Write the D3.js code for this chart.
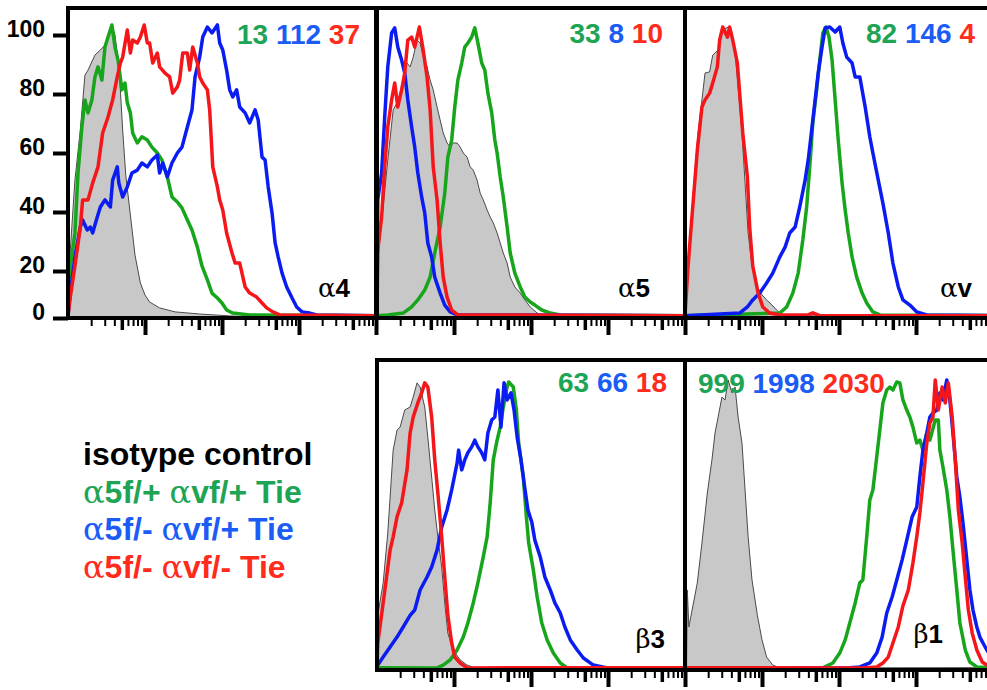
<!DOCTYPE html>
<html>
<head>
<meta charset="utf-8">
<script src="https://cdn.jsdelivr.net/npm/d3@7"></script>
<style>
  body { margin: 0; background: #fff; }
  svg { display: block; }
  text { white-space: pre; }
</style>
</head>
<body>
<svg id="chart" width="987" height="690"></svg>
<script>
// panel titles and MFI values printed in each panel
const panelNames = ["α4", "α5", "αv", "β3", "β1"];
const mfiGreen = [13, 33, 82, 63, 999];
const mfiBlue = [112, 8, 146, 66, 1998];
const mfiRed = [37, 10, 4, 18, 2030];
const legendLabels = ["isotype control", "α5f/+ αvf/+ Tie", "α5f/- αvf/+ Tie", "α5f/- αvf/- Tie"];
const yTicks = [0, 20, 40, 60, 80, 100];

// histograms: [log10 fluorescence, % of max]
const a4Iso = [[0.03,27.1],[0.09,50.8],[0.16,67.8],[0.22,86.4],[0.26,88.1],[0.35,93.2],[0.42,94.9],[0.48,96.6],[0.55,101.7],[0.57,103.4],[0.61,100],[0.65,91.5],[0.68,81.4],[0.71,67.8],[0.75,52.5],[0.81,39],[0.87,25.4],[0.94,14.9],[1.0,9.8],[1.06,6.8],[1.19,4.3],[1.39,2.6],[1.71,1.7],[2.1,0.9],[2.49,0.4]];
const a4Green = [[0.03,21.5],[0.09,32.9],[0.13,53.2],[0.18,68.8],[0.22,78],[0.26,73.6],[0.31,78],[0.35,85.8],[0.39,89.2],[0.44,84.7],[0.48,95.9],[0.52,99.3],[0.57,103.4],[0.61,95.9],[0.65,91.5],[0.7,81.4],[0.74,83.7],[0.77,77],[0.81,73.6],[0.84,66.8],[0.9,63.4],[0.96,65.5],[1.03,64.4],[1.09,62],[1.16,60],[1.22,57.6],[1.29,51.9],[1.35,45.1],[1.42,43.4],[1.48,41.4],[1.55,37.3],[1.61,33.9],[1.68,28.1],[1.74,21.7],[1.81,16.2],[1.87,10.6],[1.94,8.5],[2.0,6.4],[2.06,3.4],[2.14,2.1],[2.36,1.3]];
const a4Blue = [[0.03,10.6],[0.09,24.7],[0.16,34.9],[0.19,37.3],[0.25,33.9],[0.29,34.9],[0.32,32.9],[0.38,38.3],[0.42,41.7],[0.48,44.1],[0.55,41.7],[0.58,50.8],[0.64,55.3],[0.66,49.8],[0.71,45.1],[0.77,48.5],[0.83,53.2],[0.9,54.2],[0.96,56.6],[1.03,55.3],[1.09,57.6],[1.16,59.3],[1.19,53.2],[1.23,56.6],[1.29,51.9],[1.35,56.6],[1.42,60],[1.48,62],[1.55,68.8],[1.61,74.6],[1.65,85.8],[1.71,92.5],[1.75,99.3],[1.81,102.7],[1.87,100.7],[1.94,103.4],[1.97,97.3],[2.01,94.9],[2.06,88.1],[2.1,81.4],[2.14,79],[2.19,81.4],[2.23,75.6],[2.3,73.6],[2.36,70.2],[2.43,74.6],[2.47,71.2],[2.52,58.6],[2.56,57.6],[2.6,48.5],[2.65,39.7],[2.69,29.5],[2.73,24.7],[2.78,19.1],[2.84,13.2],[2.91,8.5],[2.97,4.7],[3.04,2.6],[3.14,2.1],[3.23,1.3]];
const a4Red = [[0.03,8.9],[0.09,21.7],[0.16,34.9],[0.19,44.1],[0.26,44.1],[0.32,49.8],[0.39,55.3],[0.45,66.8],[0.52,72.2],[0.58,78],[0.64,85.8],[0.68,90.5],[0.71,92.5],[0.77,101.7],[0.81,93.9],[0.84,98.3],[0.9,97.3],[0.94,99.3],[0.99,103.4],[1.03,97.3],[1.06,97.3],[1.1,90.5],[1.16,93.9],[1.19,89.2],[1.26,87.1],[1.32,85.8],[1.36,80.3],[1.42,82.4],[1.45,84.7],[1.49,93.9],[1.55,93.9],[1.58,88.1],[1.62,95.9],[1.68,90.5],[1.71,85.8],[1.75,83.7],[1.81,81.4],[1.84,74.6],[1.88,55.3],[1.94,48.5],[1.97,44.1],[2.01,40.7],[2.06,32.9],[2.13,26.1],[2.17,22.7],[2.23,22.7],[2.3,13.2],[2.36,10.6],[2.45,8.9],[2.52,6.4],[2.58,4.3],[2.66,2.6],[2.75,1.3]];

const a5Iso = [[0.01,23.7],[0.08,41.7],[0.14,57.6],[0.21,74.6],[0.26,77],[0.3,80.3],[0.34,84.7],[0.39,90.5],[0.43,89.2],[0.47,92.5],[0.52,98.3],[0.56,97.3],[0.6,92.5],[0.65,89.2],[0.69,84.7],[0.73,81.4],[0.78,75.6],[0.82,71.2],[0.86,66.8],[0.91,63.4],[0.95,62],[0.99,63.4],[1.04,63.4],[1.08,62],[1.12,60],[1.17,58.6],[1.21,55.3],[1.25,54.2],[1.3,50.8],[1.34,46.4],[1.38,44.1],[1.43,40.7],[1.47,38.3],[1.51,36.3],[1.56,32.9],[1.6,29.5],[1.64,26.1],[1.69,22.7],[1.73,17.4],[1.79,13.2],[1.86,10.6],[1.92,7.7],[1.99,4.7],[2.08,2.1],[2.16,1.3],[2.25,0.4]];
const a5Green = [[0.14,1.3],[0.34,2.1],[0.45,4.7],[0.53,7.7],[0.62,11.9],[0.69,17.4],[0.75,26.1],[0.82,34.9],[0.88,46.4],[0.92,58.6],[0.97,64.4],[1.01,75.6],[1.05,84.7],[1.1,90.5],[1.14,95.9],[1.18,97.3],[1.23,99.3],[1.27,102.4],[1.31,97.3],[1.36,90.5],[1.4,88.1],[1.44,80.3],[1.49,73.6],[1.53,64.4],[1.56,60],[1.6,51.9],[1.64,45.1],[1.69,34.9],[1.73,26.1],[1.79,19.1],[1.86,13.2],[1.92,8.9],[1.99,6.8],[2.05,5.5],[2.14,3.4],[2.25,2.1],[2.38,1.3]];
const a5Blue = [[0.01,44.1],[0.06,53.2],[0.1,72.2],[0.14,89.2],[0.19,100.7],[0.23,102.4],[0.27,95.9],[0.32,91.5],[0.36,87.1],[0.4,78],[0.45,68.8],[0.49,62],[0.53,53.2],[0.58,45.1],[0.62,39.7],[0.66,29.5],[0.71,24.7],[0.75,17.4],[0.82,10.6],[0.88,5.5],[0.95,2.6],[1.04,1.3]];
const a5Red = [[0.01,27.1],[0.06,38.3],[0.1,55.3],[0.14,68.8],[0.19,78],[0.23,83.7],[0.27,75.6],[0.32,81.4],[0.36,87.1],[0.4,98.3],[0.45,99.3],[0.49,95.9],[0.55,102.7],[0.6,94.9],[0.65,85.8],[0.69,74.6],[0.73,55.3],[0.78,44.1],[0.82,29.5],[0.86,17.4],[0.91,8.9],[0.97,3.4],[1.05,1.3]];

const avIso = [[0.04,21.7],[0.1,44.1],[0.17,66.8],[0.22,78],[0.26,87.1],[0.32,87.5],[0.36,93.2],[0.43,94.9],[0.49,101.7],[0.56,102.7],[0.61,100.7],[0.65,93.9],[0.69,82.4],[0.74,66.8],[0.78,49.8],[0.82,32.9],[0.87,21.7],[0.94,13.2],[1.0,9.8],[1.06,7.7],[1.13,5.5],[1.19,3.4],[1.26,1.3]];
const avGreen = [[1.23,2.1],[1.32,4.7],[1.4,10.6],[1.47,19.1],[1.53,30.5],[1.58,41.7],[1.62,55.3],[1.66,70.2],[1.71,81.4],[1.75,91.5],[1.79,100.7],[1.83,102.7],[1.87,99.3],[1.91,91.5],[1.95,78],[1.99,64.4],[2.04,49.8],[2.08,40.7],[2.12,32.9],[2.17,24.7],[2.23,17.4],[2.3,10.6],[2.36,6.4],[2.44,2.6],[2.53,1.3]];
const avBlue = [[0.71,2.1],[0.81,4.7],[0.88,7.7],[0.97,10.6],[1.06,14.9],[1.14,19.1],[1.23,24.7],[1.3,28.1],[1.36,32.9],[1.43,34.9],[1.49,41.7],[1.56,50.8],[1.6,57.6],[1.65,68.8],[1.69,78],[1.73,87.1],[1.78,95.9],[1.82,102.4],[1.88,102.7],[1.95,101],[2.01,102.7],[2.05,97.3],[2.1,92.5],[2.17,90.5],[2.21,85.8],[2.27,85.8],[2.34,75.6],[2.4,65.5],[2.44,60],[2.51,50.8],[2.57,43],[2.64,32.9],[2.7,22.7],[2.77,13.2],[2.83,7.7],[2.92,5.5],[3.01,2.6],[3.14,1.3]];
const avRed = [[0.04,21.7],[0.09,38.3],[0.16,61],[0.22,75.6],[0.26,78],[0.32,80.3],[0.36,83.7],[0.42,89.2],[0.45,98.3],[0.49,102.7],[0.55,99.3],[0.58,102.7],[0.62,98.3],[0.68,90.5],[0.71,80.3],[0.75,66.8],[0.81,51.9],[0.84,34.9],[0.88,21.7],[0.95,10.6],[1.01,4.7],[1.1,2.1],[1.23,1.3],[1.6,1.3],[1.66,2.2],[1.75,1]];

const b3Iso = [[0.01,22.6],[0.08,33.6],[0.14,50.5],[0.21,78.6],[0.26,85.4],[0.3,86.4],[0.36,92.2],[0.43,93.2],[0.47,96.6],[0.52,101.4],[0.56,100],[0.62,93.2],[0.66,83],[0.71,69.5],[0.75,58.3],[0.79,49.2],[0.84,39],[0.88,26.8],[0.92,15.7],[0.99,8.5],[1.08,4.3],[1.17,2.1],[1.27,0.9]];
const b3Green = [[0.78,0.9],[0.86,2.1],[0.95,4.3],[1.04,8.5],[1.12,14],[1.18,20],[1.25,26.8],[1.31,33.6],[1.38,42.4],[1.43,49.2],[1.47,60.7],[1.51,75.3],[1.56,82],[1.6,86.4],[1.64,93.2],[1.69,100],[1.71,101.7],[1.77,100],[1.81,92.2],[1.84,81],[1.9,69.5],[1.94,56],[1.97,47.1],[2.03,38],[2.08,28.8],[2.14,20],[2.21,12.8],[2.29,7.2],[2.38,3],[2.47,0.9]];
const b3Blue = [[0.01,2.1],[0.08,5.5],[0.17,9.8],[0.26,14],[0.34,18.3],[0.43,22.6],[0.49,24.4],[0.56,31.2],[0.65,35.6],[0.71,39],[0.78,44.7],[0.84,52.5],[0.91,58.3],[0.97,65.1],[1.04,74.2],[1.06,78.6],[1.1,71.9],[1.14,75.3],[1.18,77.7],[1.23,79.7],[1.27,82],[1.31,79.7],[1.36,77.7],[1.4,75.3],[1.44,84.4],[1.49,88.8],[1.53,89.8],[1.57,99],[1.61,86.4],[1.65,101.4],[1.69,95.6],[1.74,98],[1.78,92.2],[1.82,83],[1.87,75.3],[1.91,67.5],[1.96,58.3],[2.01,54.2],[2.05,48.1],[2.12,42.4],[2.18,35.6],[2.25,31.2],[2.31,26.8],[2.38,23.4],[2.44,18.3],[2.51,12.8],[2.6,8.5],[2.68,5.1],[2.81,2.1],[2.99,0.9]];
const b3Red = [[0.01,11.5],[0.08,26.8],[0.17,44.7],[0.21,49.2],[0.26,56],[0.32,60.7],[0.39,71.9],[0.43,84.4],[0.47,89.8],[0.53,94.6],[0.58,98],[0.62,101.4],[0.66,100],[0.71,89.8],[0.75,75.3],[0.79,64.1],[0.84,49.2],[0.88,35.6],[0.92,22.6],[0.97,11.5],[1.01,5.5],[1.08,3],[1.17,0.9]];

const b1Iso = [[0.02,1],[0.03,31.2],[0.05,18.3],[0.16,33.6],[0.22,47.1],[0.29,64.1],[0.35,75.3],[0.39,84.4],[0.43,89.8],[0.48,96.6],[0.52,95.6],[0.56,102.4],[0.61,98],[0.65,100],[0.69,89.8],[0.74,81],[0.78,65.1],[0.82,49.2],[0.87,34.6],[0.94,22.6],[1.0,12.8],[1.06,5.5],[1.14,2.1],[1.23,0.9]];
const b1Green = [[1.79,0.9],[1.92,3],[2.01,7.2],[2.08,12.8],[2.14,20],[2.21,26.8],[2.27,33.6],[2.31,34.6],[2.36,49.2],[2.4,61.7],[2.44,65.1],[2.49,76.3],[2.53,85.4],[2.57,94.6],[2.62,99],[2.66,100],[2.7,99],[2.75,101.7],[2.79,101.4],[2.83,95.6],[2.88,92.2],[2.92,89.8],[2.96,86.4],[3.01,81],[3.05,82],[3.09,78.6],[3.14,84.4],[3.18,82],[3.25,88.8],[3.29,88.8],[3.31,78.6],[3.35,72.9],[3.4,65.1],[3.44,56],[3.48,44.7],[3.53,31.2],[3.57,20],[3.64,8.5],[3.7,3.4],[3.79,1.3]];
const b1Blue = [[2.1,0.9],[2.27,1.3],[2.4,3],[2.49,7.2],[2.56,14],[2.62,23.4],[2.69,28.8],[2.75,34.6],[2.82,41.4],[2.88,48.1],[2.95,56],[3.01,59.3],[3.05,69.5],[3.09,78.6],[3.14,84.4],[3.18,89.8],[3.22,91.2],[3.27,92.2],[3.31,98],[3.35,95.6],[3.4,102.4],[3.44,95.6],[3.48,84.4],[3.53,69.5],[3.57,62.7],[3.61,53.9],[3.66,41.4],[3.7,31.2],[3.74,24.4],[3.79,18.3],[3.83,14],[3.87,11.5],[3.92,8.5],[4.0,4.3]];
const b1Red = [[2.31,0.9],[2.49,1.3],[2.57,3],[2.64,5.5],[2.7,11.5],[2.77,18.3],[2.83,25.8],[2.9,31.2],[2.96,40.3],[3.01,49.2],[3.05,57.3],[3.09,67.5],[3.14,81],[3.18,87.8],[3.22,89.8],[3.25,102.4],[3.29,92.2],[3.34,100],[3.38,94.6],[3.42,101.4],[3.47,89.8],[3.51,75.3],[3.55,58.3],[3.6,47.1],[3.64,35.6],[3.68,24.4],[3.73,15.7],[3.79,8.5],[3.86,3.4],[3.92,2.1],[4.0,1.3]];

const histos = [
  { iso: a4Iso, green: a4Green, blue: a4Blue, red: a4Red },
  { iso: a5Iso, green: a5Green, blue: a5Blue, red: a5Red },
  { iso: avIso, green: avGreen, blue: avBlue, red: avRed },
  { iso: b3Iso, green: b3Green, blue: b3Blue, red: b3Red },
  { iso: b1Iso, green: b1Green, blue: b1Blue, red: b1Red }
];

const lineColor = { green: "#17a51c", blue: "#0a1cf2", red: "#f5161a" };
const textColor = { green: "#1ea455", blue: "#1a5cf5", red: "#ff2b1c" };
const sans = "'Liberation Sans', Arial, Helvetica, sans-serif";
const serif = "'DejaVu Serif', 'Liberation Serif', serif";

const svg = d3.select("#chart");
const W = 308, H = 310;
const cols = [68, 377, 685];
const rows = [8, 360];
const slots = [[0, 0], [1, 0], [2, 0], [1, 1], [2, 1]];
// MFI numbers: [x, baseline, anchor] inside panel; panel name: [right x, baseline]
const mfiPos = [[292, 36, "end"], [286, 35, "end"], [290, 35, "end"], [290, 32, "end"], [13, 33, "start"]];
const namePos = [[282, 289], [273, 289], [287, 289], [288, 288], [258, 283]];

// greek letters in a light serif, everything else bold sans
function mixedText(sel, str) {
  str.split(/([αβ])/).filter(s => s).forEach(s => {
    const greek = /[αβ]/.test(s);
    sel.append("tspan")
      .attr("font-family", greek ? serif : sans)
      .attr("font-weight", greek ? "normal" : "bold")
      .text(s);
  });
}

const pad = pts => [[0, 1], ...pts, [4, 1]];

histos.forEach((h, i) => {
  const [c, r] = slots[i];
  const left = cols[c], top = rows[r], bottom = top + H;
  const x = d3.scaleLog().domain([1, 1e4]).range([left, left + W]);
  const y = d3.scaleLinear().domain([0, 20, 100]).range([bottom, bottom - 47, bottom - 283]);
  const px = d => x(Math.pow(10, d[0]));

  svg.append("clipPath").attr("id", "clip" + i)
    .append("rect").attr("x", left).attr("y", top).attr("width", W).attr("height", H);
  const g = svg.append("g").attr("clip-path", `url(#clip${i})`);

  const area = d3.area().x(px).y0(y(0)).y1(d => y(d[1]));
  const line = d3.line().x(px).y(d => y(d[1]));

  g.append("path").attr("d", area(pad(h.iso)))
    .attr("fill", "#c8c8c8").attr("stroke", "#4a4a4a").attr("stroke-width", 1);

  ["green", "blue", "red"].forEach(k => {
    g.append("path").attr("d", line(pad(h[k])))
      .attr("fill", "none").attr("stroke", lineColor[k])
      .attr("stroke-width", 3.5).attr("stroke-linejoin", "round");
  });

  // log ticks under the axis
  const tickVals = x.ticks().filter(v => v > 1);
  const mant = v => Math.round(v / Math.pow(10, Math.floor(Math.log10(v) + 1e-9)));
  const xAxis = svg.append("g").attr("transform", `translate(0,${bottom})`)
    .call(d3.axisBottom(x).tickValues(tickVals).tickFormat("").tickSizeOuter(0));
  xAxis.select(".domain").remove();
  xAxis.selectAll(".tick line")
    .attr("y2", d => mant(d) === 1 ? 17 : mant(d) === 5 ? 12 : 8)
    .attr("stroke-width", d => mant(d) === 1 ? 4 : mant(d) === 5 ? 3.5 : 2)
    .attr("stroke", "#000");

  if (i === 0) {
    const yAxis = svg.append("g").attr("transform", `translate(${left},0)`)
      .call(d3.axisLeft(y).tickValues(yTicks).tickSize(15).tickPadding(8));
    yAxis.select(".domain").remove();
    yAxis.selectAll(".tick line").attr("stroke-width", 4).attr("stroke", "#000");
    yAxis.selectAll(".tick text")
      .attr("dy", "0.05em").attr("fill", "#000")
      .style("font-family", sans).style("font-weight", "bold").style("font-size", "23px");
  }

  svg.append("rect").attr("x", left).attr("y", top).attr("width", W).attr("height", H)
    .attr("fill", "none").attr("stroke", "#000").attr("stroke-width", 4);

  const [mx, my, anchor] = mfiPos[i];
  const mfi = svg.append("text").attr("x", left + mx).attr("y", top + my)
    .attr("text-anchor", anchor)
    .style("font-family", sans).style("font-weight", "bold").style("font-size", "28px");
  [["green", mfiGreen[i]], ["blue", mfiBlue[i]], ["red", mfiRed[i]]].forEach(([k, v], j) => {
    mfi.append("tspan").attr("fill", textColor[k]).text((j ? " " : "") + v);
  });

  const [nx, ny] = namePos[i];
  const name = svg.append("text").attr("x", left + nx).attr("y", top + ny)
    .attr("text-anchor", "end").attr("fill", "#000").style("font-size", "26px");
  mixedText(name, panelNames[i]);
});

// legend
const legendColors = ["#000", textColor.green, textColor.blue, textColor.red];
legendLabels.forEach((lab, i) => {
  const t = svg.append("text").attr("x", 83).attr("y", 465 + i * 37.6)
    .attr("fill", legendColors[i]).style("font-size", "32px");
  mixedText(t, lab);
});
</script>
</body>
</html>
